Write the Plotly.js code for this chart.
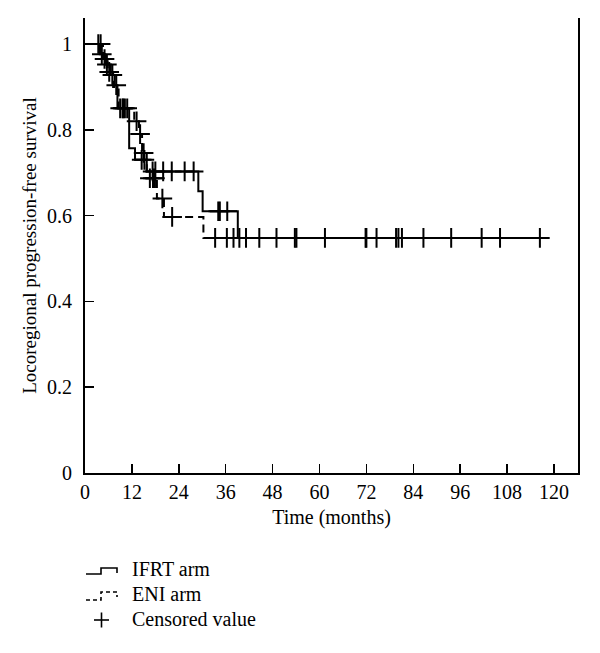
<!DOCTYPE html>
<html>
<head>
<meta charset="utf-8">
<script src="https://cdn.plot.ly/plotly-3.0.1.min.js"></script>
<style>html,body{margin:0;padding:0;background:#fff;}#chart{width:600px;height:653px;}</style>
</head>
<body>
<div id="chart"></div>
<script>
// ---- Data ----
// IFRT arm: step points (time in months, survival after the step)
const ifrtTime = [0, 3.8, 5.2, 6.6, 7.6, 8.3, 11.3, 12.8, 15.8, 29.0, 30.1, 39.1, 116.4];
const ifrtSurv = [1.0, 0.976, 0.952, 0.928, 0.904, 0.85, 0.757, 0.73, 0.703, 0.657, 0.61, 0.548, 0.548];
const ifrtCensor = [3.4, 4.3, 5.6, 7.0, 8.0, 9.0, 9.6, 10.2, 14.5, 15.2, 17.3, 18.0, 20.0, 22.2, 25.5, 27.8,
  34.1, 34.5, 36.4, 39.5, 41.2, 44.6, 49.0, 53.7, 61.4, 74.6, 79.6, 81.1, 93.7, 101.5, 116.4];

// ENI arm
const eniTime = [0, 4.6, 5.8, 7.2, 8.6, 12.6, 13.8, 14.6, 15.8, 18.4, 20.2, 30.3, 106.2];
const eniSurv = [1.0, 0.965, 0.935, 0.9, 0.85, 0.82, 0.79, 0.746, 0.687, 0.64, 0.597, 0.548, 0.548];
const eniCensor = [4.0, 5.0, 6.2, 9.8, 10.8, 13.2, 14.1, 15.0, 16.6, 17.4, 17.9, 19.8, 22.3,
  33.3, 36.3, 38.0, 54.1, 71.8, 72.0, 80.2, 86.6, 106.2];

const xTicks = [0, 12, 24, 36, 48, 60, 72, 84, 96, 108, 120];
const yTicks = [0, 0.2, 0.4, 0.6, 0.8, 1];
const legendLabels = ["IFRT arm", "ENI arm", "Censored value"];

// survival value of a step function at time t
function survAt(times, surv, t) {
  let v = surv[0];
  for (let i = 0; i < times.length; i++) { if (times[i] <= t) v = surv[i]; }
  return v;
}

const FONT = "Liberation Serif, Times New Roman, serif";
const FS = 20;

const traces = [
  {x: ifrtTime, y: ifrtSurv, type: "scatter", mode: "lines", name: "IFRT arm",
   line: {shape: "hv", color: "#000", width: 2}, showlegend: false, hoverinfo: "skip"},
  {x: eniTime, y: eniSurv, type: "scatter", mode: "lines", name: "ENI arm",
   line: {shape: "hv", color: "#000", width: 2, dash: "8px,5px"}, showlegend: false, hoverinfo: "skip"},
  {x: ifrtCensor, y: ifrtCensor.map(t => survAt(ifrtTime, ifrtSurv, t)), type: "scatter", mode: "markers",
   name: "Censored (IFRT)", marker: {symbol: "cross-thin", size: 14, line: {color: "#000", width: 2}},
   showlegend: false, hoverinfo: "skip"},
  {x: eniCensor, y: eniCensor.map(t => survAt(eniTime, eniSurv, t)), type: "scatter", mode: "markers",
   name: "Censored (ENI)", marker: {symbol: "cross-thin", size: 14, line: {color: "#000", width: 2}},
   showlegend: false, hoverinfo: "skip"}
];

// plot-area geometry in pixels
const L = 85, R = 578, T = 18, B = 473;
const px = x => (x - L) / (R - L);
const py = y => (B - y) / (B - T);

const shapes = [
  // legend glyph: IFRT (solid step)
  {type: "path", xref: "paper", yref: "paper",
   path: `M ${px(86)} ${py(574)} L ${px(101)} ${py(574)} L ${px(101)} ${py(568)} L ${px(117)} ${py(568)} L ${px(117)} ${py(573)}`,
   line: {color: "#000", width: 1.6}},
  // legend glyph: ENI (dashed step)
  {type: "path", xref: "paper", yref: "paper",
   path: `M ${px(86)} ${py(600)} L ${px(101)} ${py(600)} L ${px(101)} ${py(592)} L ${px(117)} ${py(592)} L ${px(117)} ${py(597)}`,
   line: {color: "#000", width: 1.6, dash: "4px,3px"}},
  // legend glyph: censor cross
  {type: "line", xref: "paper", yref: "paper", x0: px(94), x1: px(109), y0: py(620), y1: py(620), line: {color: "#000", width: 1.6}},
  {type: "line", xref: "paper", yref: "paper", x0: px(101.5), x1: px(101.5), y0: py(612.5), y1: py(627.5), line: {color: "#000", width: 1.6}}
];

const annotations = legendLabels.map((t, i) => ({
  text: t, xref: "paper", yref: "paper", x: px(130), y: py([569, 594, 619][i]),
  xanchor: "left", yanchor: "middle", showarrow: false, font: {family: FONT, size: FS, color: "#000"}
}));

const layout = {
  width: 600, height: 653,
  margin: {l: L, r: 600 - R, t: T, b: 653 - B},
  paper_bgcolor: "#fff", plot_bgcolor: "#fff",
  font: {family: FONT, size: FS, color: "#000"},
  xaxis: {
    range: [0, (R - L) / 3.908], tickvals: xTicks, ticktext: xTicks.map(String),
    ticks: "inside", ticklen: 9, tickwidth: 1.5, tickcolor: "#000",
    showline: true, linecolor: "#000", linewidth: 2, mirror: false,
    showgrid: false, zeroline: false, ticklabelstandoff: 0,
    title: {text: "Time (months)", font: {family: FONT, size: FS}, standoff: 8}
  },
  yaxis: {
    range: [0, (B - T) / 429], tickvals: yTicks, ticktext: yTicks.map(String),
    ticks: "inside", ticklen: 9, tickwidth: 1.5, tickcolor: "#000",
    showline: true, linecolor: "#000", linewidth: 2, mirror: true,
    showgrid: false, zeroline: false, ticklabelstandoff: 7,
    title: {text: "Locoregional progression-free survival", font: {family: FONT, size: 19}, standoff: 5}
  },
  shapes: shapes,
  annotations: annotations,
  showlegend: false
};

Plotly.newPlot("chart", traces, layout, {displayModeBar: false, staticPlot: true});
</script>
</body>
</html>
